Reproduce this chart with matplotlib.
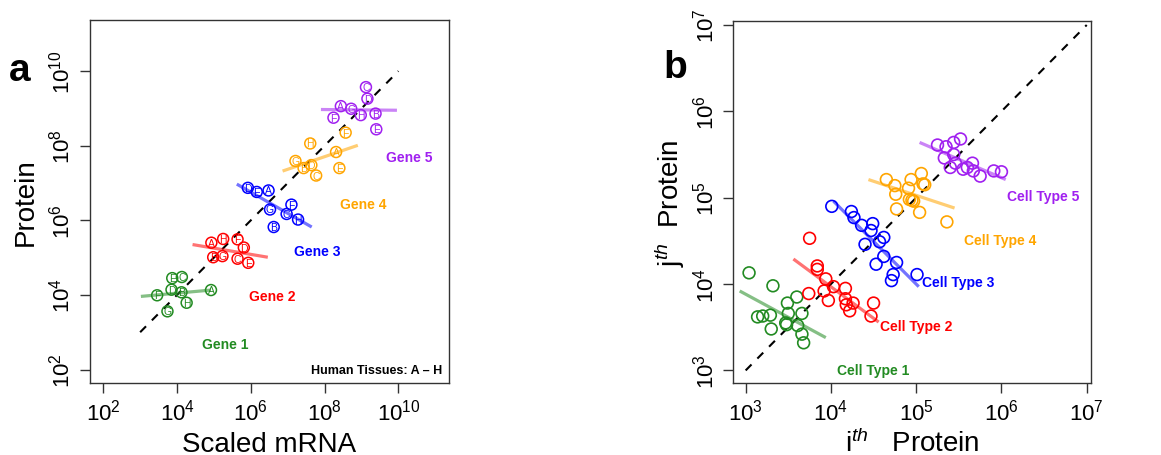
import matplotlib
matplotlib.use('Agg')
import matplotlib.pyplot as plt
import numpy as np

plt.rcParams['font.family'] = ['Liberation Sans', 'DejaVu Sans']
plt.rcParams['mathtext.fontset'] = 'custom'
plt.rcParams['mathtext.rm'] = 'Liberation Sans'
plt.rcParams['mathtext.it'] = 'Liberation Sans:italic'

colors = ['#228B22', '#FF0000', '#0000FF', '#FFA500', '#A020F0']

# ---- panel a: log10 values, tissues A-H per gene
tissues = ['A', 'B', 'C', 'D', 'E', 'F', 'G', 'H']
gene_mrna = [
    [4.92, 4.12, 4.13, 3.85, 3.87, 3.46, 3.74, 4.26],
    [4.93, 4.98, 5.64, 5.81, 5.93, 5.64, 5.23, 5.25],
    [6.48, 6.62, 6.97, 5.92, 6.16, 7.10, 6.52, 7.28],
    [8.31, 7.43, 7.77, 7.64, 8.40, 8.57, 7.21, 7.61],
    [8.44, 9.38, 9.12, 9.16, 9.40, 8.24, 8.72, 8.98],
]
gene_prot = [
    [4.13, 4.07, 4.48, 4.14, 4.45, 3.99, 3.56, 3.79],
    [5.40, 5.01, 4.97, 5.27, 4.86, 5.49, 5.04, 5.50],
    [6.80, 5.82, 6.17, 6.87, 6.76, 6.42, 6.29, 6.02],
    [7.83, 7.40, 7.20, 7.48, 7.40, 8.35, 7.59, 8.06],
    [9.06, 8.86, 9.57, 9.26, 8.44, 8.75, 8.99, 8.82],
]
gene_fit_x = [[3.02, 4.92], [4.42, 6.46], [5.62, 7.65], [6.86, 8.90], [7.90, 9.96]]
gene_fit_y = [[3.96, 4.13], [5.35, 5.01], [6.97, 5.82], [7.32, 8.01], [8.97, 8.95]]
gene_names = ['Gene 1', 'Gene 2', 'Gene 3', 'Gene 4', 'Gene 5']
gene_label_x = [5.30, 6.57, 7.80, 9.05, 10.3]
gene_label_y = [2.69, 3.96, 5.18, 6.45, 7.71]

# ---- panel b: log10 values per cell type
cell_x = [
    [3.04, 3.32, 3.14, 3.20, 3.29, 3.30, 3.49, 3.60, 3.50, 3.47, 3.48, 3.61, 3.66, 3.66, 3.68],
    [3.75, 3.84, 3.84, 3.94, 4.03, 3.92, 3.74, 3.97, 4.17, 4.17, 4.18, 4.22, 4.26, 4.50, 4.47],
    [4.01, 4.24, 4.27, 4.36, 4.49, 4.47, 4.40, 4.57, 4.62, 4.62, 4.53, 4.77, 4.73, 4.71, 5.01],
    [4.65, 4.75, 4.76, 4.94, 5.06, 4.91, 5.08, 5.10, 4.92, 4.95, 4.97, 4.77, 5.04, 5.36],
    [5.25, 5.35, 5.44, 5.52, 5.44, 5.33, 5.40, 5.46, 5.55, 5.60, 5.66, 5.67, 5.75, 5.91, 6.00],
]
cell_y = [
    [4.13, 3.98, 3.62, 3.63, 3.64, 3.48, 3.78, 3.85, 3.66, 3.55, 3.53, 3.52, 3.66, 3.42, 3.32],
    [4.53, 4.21, 4.17, 4.06, 3.97, 3.92, 3.89, 3.81, 3.95, 3.83, 3.76, 3.69, 3.78, 3.78, 3.63],
    [4.90, 4.84, 4.77, 4.68, 4.70, 4.62, 4.46, 4.49, 4.54, 4.32, 4.23, 4.25, 4.11, 4.04, 4.11],
    [5.21, 5.14, 5.04, 5.21, 5.28, 5.11, 5.16, 5.15, 4.98, 4.97, 4.96, 4.87, 4.83, 4.72],
    [5.61, 5.59, 5.64, 5.68, 5.50, 5.46, 5.35, 5.40, 5.33, 5.35, 5.40, 5.31, 5.25, 5.31, 5.30],
]
cell_fit_x = [[2.93, 3.94], [3.56, 4.56], [4.03, 5.03], [4.44, 5.45], [5.04, 6.05]]
cell_fit_y = [[3.92, 3.38], [4.29, 3.56], [4.96, 3.97], [5.21, 4.88], [5.64, 5.21]]
cell_names = ['Cell Type 1', 'Cell Type 2', 'Cell Type 3', 'Cell Type 4', 'Cell Type 5']
cell_label_x = [4.50, 5.00, 5.49, 5.99, 6.49]
cell_label_y = [3.01, 3.51, 4.02, 4.51, 5.02]


def style_axes(ax, lo, hi, ticks):
    ax.set_xscale('log')
    ax.set_yscale('log')
    ax.set_xlim(10 ** lo, 10 ** hi)
    ax.set_ylim(10 ** lo, 10 ** hi)
    ax.set_xticks([10.0 ** t for t in ticks])
    ax.set_yticks([10.0 ** t for t in ticks])
    ax.minorticks_off()
    ax.tick_params(length=7, width=1, labelsize=16, pad=4, color='#333333')
    ax.tick_params(axis='y', labelrotation=90)
    for lab in ax.get_yticklabels():
        lab.set_va('center')
    for s in ax.spines.values():
        s.set_linewidth(1.0)
        s.set_color('#333333')


fig = plt.figure(figsize=(11.61, 4.56), dpi=100)

# panel a
ax1 = fig.add_axes([0.0775, 0.158, 0.3092, 0.796])
ax1.plot([1e3, 1e10], [1e3, 1e10], 'k--', lw=1.5, dashes=(4, 4))
for i in range(5):
    ax1.plot(10 ** np.array(gene_fit_x[i]), 10 ** np.array(gene_fit_y[i]),
             color=colors[i], alpha=0.55, lw=2.3, solid_capstyle='butt')
    xs = 10 ** np.array(gene_mrna[i])
    ys = 10 ** np.array(gene_prot[i])
    ax1.scatter(xs, ys, s=62, facecolors='none', edgecolors=colors[i], linewidths=1.1, zorder=3)
    for x, y, t in zip(xs, ys, tissues):
        ax1.text(x, y, t, color=colors[i], fontsize=7.5, ha='center', va='center', zorder=4)
    ax1.text(10 ** gene_label_x[i], 10 ** gene_label_y[i], gene_names[i], color=colors[i],
             fontsize=10, fontweight='bold', ha='center', va='center')
ax1.text(10 ** 11.2, 10 ** 2.0, 'Human Tissues: A \u2013 H', fontsize=9, fontweight='bold',
         ha='right', va='center')
style_axes(ax1, 1.64, 11.37, [2, 4, 6, 8, 10])
ax1.set_xlabel('Scaled mRNA', fontsize=20, labelpad=5)
ax1.set_ylabel('Protein', fontsize=20, labelpad=7)
fig.text(0.008, 0.845, 'a', fontsize=28, fontweight='bold', ha='left', va='center')

# panel b
ax2 = fig.add_axes([0.6316, 0.158, 0.3081, 0.7945])
ax2.plot([1e3, 1e7], [1e3, 1e7], 'k--', lw=1.5, dashes=(4, 4))
for i in range(5):
    ax2.plot(10 ** np.array(cell_fit_x[i]), 10 ** np.array(cell_fit_y[i]),
             color=colors[i], alpha=0.55, lw=2.3, solid_capstyle='butt')
    ax2.scatter(10 ** np.array(cell_x[i]), 10 ** np.array(cell_y[i]), s=72,
                facecolors='none', edgecolors=colors[i], linewidths=1.2, zorder=3)
    ax2.text(10 ** cell_label_x[i], 10 ** cell_label_y[i], cell_names[i], color=colors[i],
             fontsize=10, fontweight='bold', ha='center', va='center')
style_axes(ax2, 2.855, 7.05, [3, 4, 5, 6, 7])
ax2.set_xlabel(r'i$^{th}$   Protein', fontsize=20, labelpad=3)
ax2.set_ylabel(r'j$^{th}$  Protein', fontsize=20, labelpad=4)
fig.text(0.571, 0.85, 'b', fontsize=28, fontweight='bold', ha='left', va='center')

fig.savefig('out.png', dpi=100)
